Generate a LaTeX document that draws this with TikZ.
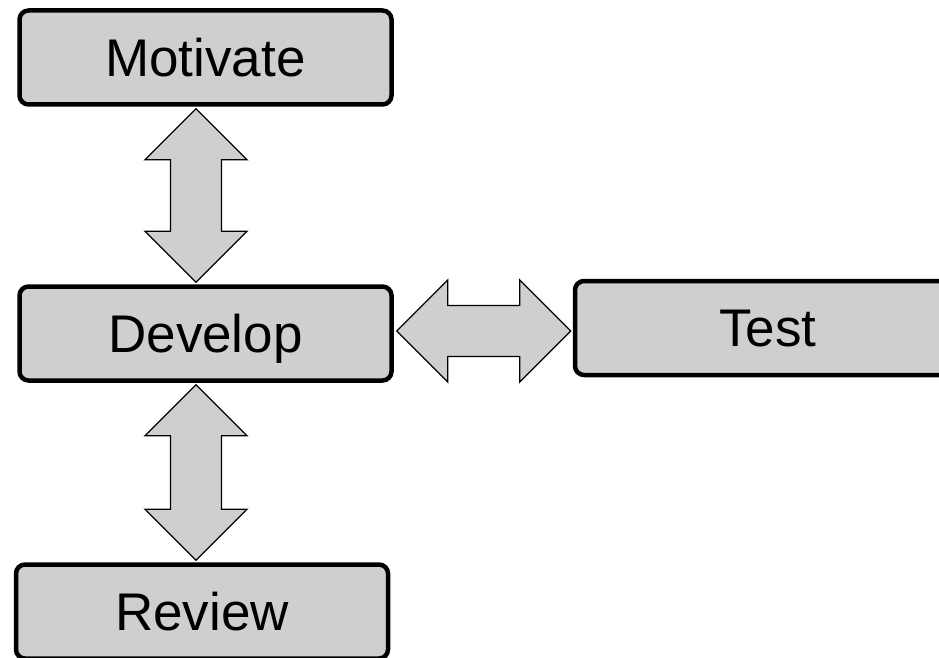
\documentclass[tikz,border=0pt]{standalone}
\usepackage{fontspec}
\setmainfont{Liberation Sans}
\usepackage{tikz}
\usetikzlibrary{calc,positioning}
\definecolor{boxgray}{RGB}{207,207,207}

\tikzset{
  stagebox/.style={draw, line width=4.5pt, rounded corners=9pt, fill=boxgray,
    minimum width=372pt, minimum height=94pt, inner sep=0pt,
    text height=37.5pt, text depth=0pt, font=\fontsize{53}{60}\selectfont},
  blockarrow/.style={draw, line width=1.3pt, fill=boxgray, line join=miter}
}

% double block arrows between two tips
\newcommand{\vblock}[2]{%
  \draw[blockarrow] (#1) -- ($(#1)+(51,51)$) -- ($(#1)+(25.5,51)$) -- ($(#2)+(25.5,-51)$)
    -- ($(#2)+(51,-51)$) -- (#2) -- ($(#2)+(-51,-51)$) -- ($(#2)+(-25.5,-51)$)
    -- ($(#1)+(-25.5,51)$) -- ($(#1)+(-51,51)$) -- cycle;}
\newcommand{\hblock}[2]{%
  \draw[blockarrow] (#1) -- ($(#1)+(51,-51)$) -- ($(#1)+(51,-25.5)$) -- ($(#2)+(-51,-25.5)$)
    -- ($(#2)+(-51,-51)$) -- (#2) -- ($(#2)+(-51,51)$) -- ($(#2)+(-51,25.5)$)
    -- ($(#1)+(51,25.5)$) -- ($(#1)+(51,51)$) -- cycle;}

\begin{document}
\begin{tikzpicture}[x=1pt, y=-1pt]
      \useasboundingbox (0, 0) rectangle (939, 658);

      \node[stagebox] (motivate) at (205.5, 57.5) {Motivate};
      \node[stagebox] (develop) at (205.5, 333.5) {Develop};
      \node[stagebox, minimum width=386pt] (test) at (768, 328) {Test};
      \node[stagebox] (review) at (202, 611.5) {Review};

      \coordinate (mtop) at ($(motivate.south)+(-9.5, 2)$);
      \coordinate (dtop) at ($(develop.north)+(-9.5, -2)$);
      \coordinate (dbot) at ($(develop.south)+(-9.5, 2)$);
      \coordinate (rtop) at ($(review.north)+(-6, -2)$);
      \coordinate (dright) at ($(develop.east)+(3, -2.5)$);
      \coordinate (tleft) at ($(test.west)+(-2, 3)$);

      \vblock{mtop}{dtop}
      \vblock{dbot}{rtop}
      \hblock{dright}{tleft}
    \end{tikzpicture}
\end{document}
